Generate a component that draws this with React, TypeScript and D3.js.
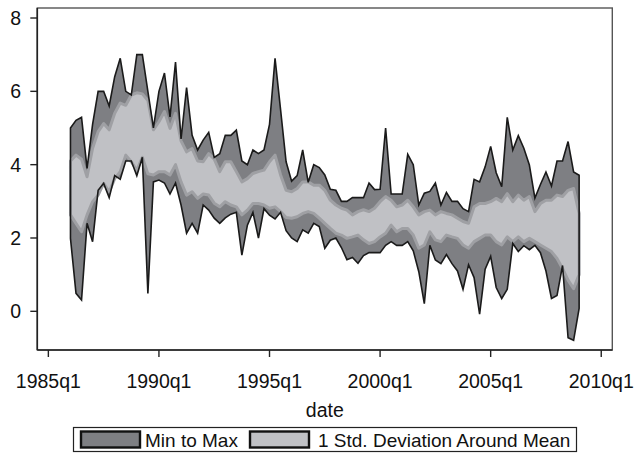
import React from "react";
import * as d3 from "d3";

// quarter index: 0 = 1985q1 ; data run 1986q1 .. 2009q1
const firstQuarter = 4;

const maxVals = [
  5.0, 5.21, 5.29, 3.9, 5.1, 6.0, 6.0, 5.6, 6.4, 6.9, 6.0, 5.9, 7.0, 7.0, 6.0, 5.0,
  6.0, 6.5, 5.3, 6.8, 4.7, 6.1, 4.8, 4.4, 4.67, 4.88, 4.2, 4.3, 4.8, 4.8, 4.94, 4.1,
  4.0, 4.4, 4.3, 4.4, 5.1, 6.9, 5.5, 4.08, 3.55, 3.7, 4.4, 3.52, 4.0, 3.92, 3.72, 3.33,
  3.3, 3.0, 3.0, 3.1, 3.1, 3.1, 3.5, 3.32, 3.33, 5.0, 3.2, 3.2, 3.2, 4.28, 4.0, 2.9,
  3.22, 3.27, 3.5, 2.9, 3.24, 3.0, 3.0, 2.8, 2.72, 3.6, 3.53, 3.94, 4.5, 3.78, 3.4, 5.29,
  4.4, 4.79, 4.45, 3.99, 3.09, 3.46, 3.8, 3.42, 4.1, 4.1, 4.63, 3.8, 3.71,
];

const minVals = [
  1.99, 0.49, 0.31, 2.4, 1.9, 3.3, 3.49, 3.1, 3.7, 3.6, 4.1, 4.1, 3.7, 4.2, 0.49, 3.53,
  3.58, 3.5, 3.2, 3.5, 2.9, 2.13, 2.4, 2.13, 2.9, 2.76, 2.54, 2.4, 2.55, 2.65, 2.7, 1.53,
  2.35, 2.7, 2.0, 2.8, 2.62, 2.52, 2.7, 2.2, 2.0, 1.9, 2.22, 2.13, 2.4, 2.31, 1.72, 1.94,
  2.0, 1.74, 1.41, 1.47, 1.31, 1.52, 1.6, 1.6, 1.6, 1.8, 1.9, 1.8, 1.8, 1.9, 1.65, 1.08,
  0.21, 1.8, 1.4, 1.3, 1.55, 1.3, 1.1, 0.6, 1.27, 0.92, -0.08, 1.15, 1.5, 0.65, 0.35, 0.6,
  1.85, 1.63, 1.79, 1.68, 1.8, 1.6, 1.1, 0.35, 0.43, 1.25, -0.72, -0.79, 0.08,
];

const sdHigh = [
  4.1, 4.26, 4.15, 3.67, 4.45, 4.9, 5.12, 4.95, 5.4, 5.68, 5.62, 5.9, 5.96, 5.93, 5.75, 4.95,
  5.17, 5.45, 4.99, 5.4, 4.65, 4.35, 4.44, 4.1, 4.08, 4.3, 4.15, 3.81, 4.08, 4.08, 3.81, 3.53,
  3.62, 3.76, 3.81, 3.85, 4.08, 4.26, 3.72, 3.3, 3.26, 3.35, 3.53, 3.53, 3.44, 3.44, 3.3, 3.03,
  2.9, 2.81, 2.76, 2.63, 2.72, 2.77, 2.72, 2.81, 2.99, 3.13, 3.03, 2.85, 2.9, 3.03, 2.85, 2.63,
  2.72, 2.76, 2.63, 2.72, 2.67, 2.63, 2.54, 2.45, 2.4, 2.85, 2.94, 2.94, 2.99, 3.08, 2.99, 3.21,
  2.99, 3.17, 3.03, 3.13, 2.72, 2.94, 3.03, 3.03, 3.17, 3.13, 3.3, 3.35, 2.67,
];

const sdLow = [
  2.63, 2.4, 2.17, 2.63, 2.99, 3.17, 3.49, 3.26, 3.62, 3.81, 4.26, 4.08, 3.85, 4.2, 3.75, 3.72,
  3.81, 3.81, 3.72, 4.0, 3.53, 3.17, 3.26, 3.08, 3.2, 3.17, 2.95, 2.85, 2.99, 2.9, 2.85, 2.63,
  2.76, 2.94, 2.94, 2.9, 2.81, 2.85, 2.72, 2.56, 2.54, 2.58, 2.67, 2.72, 2.67, 2.54, 2.4, 2.26,
  2.13, 2.08, 1.99, 2.03, 2.08, 1.95, 1.85, 1.9, 2.03, 2.13, 2.35, 2.17, 2.26, 2.26, 2.08, 1.72,
  1.81, 2.17, 1.95, 1.9, 2.08, 2.03, 1.99, 1.81, 1.72, 1.9, 1.99, 2.08, 2.08, 1.9, 1.81, 2.03,
  1.9, 2.03, 1.9, 1.99, 1.9, 1.81, 1.72, 1.63, 1.44, 1.17, 0.85, 0.62, 1.0,
];

const yTicks = [0, 2, 4, 6, 8];
const xTicks = [0, 20, 40, 60, 80, 100];
const xTickLabels = ["1985q1", "1990q1", "1995q1", "2000q1", "2005q1", "2010q1"];
const legendLabels = ["Min to Max", "1 Std. Deviation Around Mean"];

const W = 636;
const H = 457;
const left = 37.3;
const right = 612.3;
const top = 8;
const bottom = 350;

const DARK = "#7e7f83";
const LIGHT = "#c0c1c5";
const RING = "#9fa0a4";
const FONT = "'Liberation Sans', Arial, Helvetica, sans-serif";
const FS = 19.5;

export default function App() {
  const x = d3.scaleLinear().domain([-2, 102]).range([left, right]);
  const y = d3.scaleLinear().domain([-1.055, 8.273]).range([bottom, top]);

  const rows = maxVals.map((mx, i) => ({
    q: firstQuarter + i,
    max: mx,
    min: minVals[i],
    hi: sdHigh[i],
    lo: sdLow[i],
  }));

  const rangeArea = d3
    .area<any>()
    .x((d) => x(d.q))
    .y0((d) => y(d.min))
    .y1((d) => y(d.max));
  const sdArea = d3
    .area<any>()
    .x((d) => x(d.q))
    .y0((d) => y(d.lo))
    .y1((d) => y(d.hi));

  const rangePath = rangeArea(rows) as string;
  const sdPath = sdArea(rows) as string;

  return (
    <svg width={W} height={H} style={{ display: "block", position: "absolute", left: 0, top: 0 }}>
      <rect x={0} y={0} width={W} height={H} fill="#ffffff" />
      <path d={rangePath} fill={DARK} stroke="none" />
      <path d={sdPath} fill={LIGHT} stroke={RING} strokeWidth={3} strokeLinejoin="round" />
      <path d={rangePath} fill="none" stroke="#1a1a1a" strokeWidth={1.6} strokeLinejoin="miter" />

      {/* plot region frame */}
      <rect x={left} y={top} width={right - left} height={bottom - top} fill="none" stroke="#555" strokeWidth={1.4} />
      <line x1={left} x2={left} y1={top} y2={bottom} stroke="#222" strokeWidth={1.6} />
      <line x1={left} x2={right} y1={bottom} y2={bottom} stroke="#222" strokeWidth={1.6} />

      {yTicks.map((t) => (
        <g key={"y" + t}>
          <line x1={left - 7} x2={left} y1={y(t)} y2={y(t)} stroke="#222" strokeWidth={1.4} />
          <text x={21} y={y(t) + 7} textAnchor="end" fontFamily={FONT} fontSize={FS} fill="#111">
            {t}
          </text>
        </g>
      ))}

      {xTicks.map((t, i) => (
        <g key={"x" + t}>
          <line x1={x(t)} x2={x(t)} y1={bottom} y2={bottom + 7} stroke="#222" strokeWidth={1.4} />
          <text x={x(t)} y={388} textAnchor="middle" fontFamily={FONT} fontSize={FS} fill="#111">
            {xTickLabels[i]}
          </text>
        </g>
      ))}

      <text x={(left + right) / 2} y={417} textAnchor="middle" fontFamily={FONT} fontSize={FS} fill="#111">
        date
      </text>

      {/* legend */}
      <rect x={73.5} y={427.5} width={503} height={24} fill="#fff" stroke="#222" strokeWidth={1.2} />
      <rect x={81} y={431.5} width={59} height={16} fill={DARK} stroke="#111" strokeWidth={2.4} />
      <text x={145} y={446.5} fontFamily={FONT} fontSize={19} fill="#111">
        {legendLabels[0]}
      </text>
      <rect x={250} y={431.5} width={59} height={16} fill={LIGHT} stroke="#111" strokeWidth={2.4} />
      <text x={318} y={446.5} fontFamily={FONT} fontSize={19} fill="#111">
        {legendLabels[1]}
      </text>
    </svg>
  );
}
